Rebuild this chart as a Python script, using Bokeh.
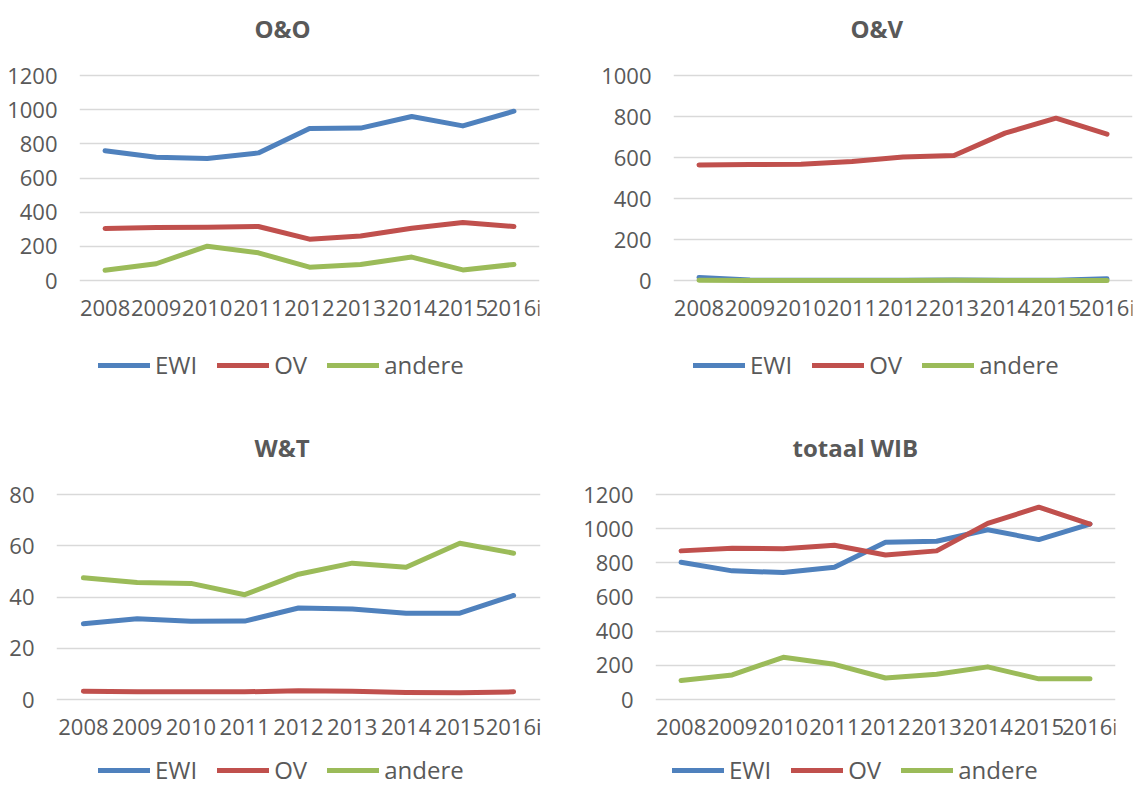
from bokeh.plotting import figure
from bokeh.models import Range1d, FactorRange, FixedTicker, Legend, LegendItem
from bokeh.layouts import column, row
from bokeh.embed import file_html
from bokeh.resources import INLINE

years = ["2008", "2009", "2010", "2011", "2012", "2013", "2014", "2015", "2016i"]
series_names = ["EWI", "OV", "andere"]

oo_ewi = [759, 722, 714, 747, 890, 892, 960, 905, 991]
oo_ov = [304, 310, 312, 316, 242, 261, 306, 340, 316]
oo_andere = [60, 98, 201, 162, 78, 94, 137, 62, 94]

ov_ewi = [15, 2, 1, 1, 1, 2, 1, 1, 8]
ov_ov = [564, 566, 567, 580, 602, 610, 719, 792, 714]
ov_andere = [1, 0, 0, 0, 0, 1, 0, 0, 0]

wt_ewi = [29.6, 31.5, 30.5, 30.6, 35.7, 35.3, 33.7, 33.7, 40.6]
wt_ov = [3.2, 3.0, 3.0, 3.0, 3.4, 3.2, 2.7, 2.6, 3.0]
wt_andere = [47.5, 45.7, 45.3, 40.9, 48.9, 53.2, 51.6, 61.0, 57.1]

tot_ewi = [803, 753, 743, 774, 920, 926, 994, 936, 1027]
tot_ov = [870, 885, 883, 903, 846, 870, 1031, 1126, 1027]
tot_andere = [111, 144, 247, 206, 126, 148, 191, 121, 121]

COLORS = ["#4F81BD", "#C0504D", "#9BBB59"]
TXT = "#595959"
FONT = "Open Sans"

PLOT_H = 205      # pixels between the 0 line and the top gridline
TOP_PAD = 25      # frame space above the top gridline
BT = 50           # border above the frame (title area)
BB = 5            # border below the frame


def make(title, data, ymax, step, fw, bl, br, below_px, title_off, leg_x, leg_y):
    k = PLOT_H / ymax
    fh = TOP_PAD + PLOT_H + below_px
    p = figure(x_range=FactorRange(factors=years),
               y_range=Range1d(-below_px / k, ymax + TOP_PAD / k),
               frame_width=fw, frame_height=fh,
               min_border_left=bl, min_border_right=br,
               min_border_top=BT, min_border_bottom=BB,
               output_backend="svg", toolbar_location=None,
               outline_line_color=None)
    p.title.text = title
    p.title.text_font = FONT
    p.title.text_font_size = "24px"
    p.title.text_font_style = "bold"
    p.title.text_color = TXT
    p.title.align = "left"
    p.title.offset = title_off
    p.title.standoff = 12

    for ax in (p.xaxis, p.yaxis):
        ax.axis_line_color = None
        ax.major_tick_line_color = None
        ax.minor_tick_line_color = None
        ax.major_label_text_font = FONT
        ax.major_label_text_font_size = "22px"
        ax.major_label_text_color = TXT
    p.xaxis.fixed_location = 0
    p.yaxis.major_label_standoff = 16
    p.yaxis.ticker = FixedTicker(ticks=list(range(0, ymax + 1, step)))
    p.xgrid.grid_line_color = None
    p.ygrid.grid_line_color = "#D9D9D9"
    p.ygrid.grid_line_width = 1.5

    items = []
    for name, vals, col in zip(series_names, data, COLORS):
        r = p.line(years, vals, line_color=col, line_width=5,
                   line_cap="round", line_join="round")
        items.append(LegendItem(label=name, renderers=[r]))

    leg = Legend(items=items, orientation="horizontal",
                 location=(leg_x, leg_y), margin=0, padding=0,
                 spacing=20, glyph_width=52, glyph_height=20,
                 label_standoff=5, label_text_font=FONT,
                 label_text_font_size="24px", label_text_color=TXT,
                 border_line_color=None, background_fill_alpha=0)
    p.add_layout(leg)
    return p


# row 1: 419 px tall, row 2: 375 px tall
p1 = make("O&O", [oo_ewi, oo_ov, oo_andere], 1200, 200,
          460, 79, 28, 134, 175, 19, 33)
p2 = make("O&V", [ov_ewi, ov_ov, ov_andere], 1000, 200,
          459, 106, 3, 134, 177, 20, 33)
p3 = make("W&T", [wt_ewi, wt_ov, wt_andere], 80, 20,
          484, 56, 27, 90, 198, 42, 3)
p4 = make("totaal WIB", [tot_ewi, tot_ov, tot_andere], 1200, 200,
          460, 88, 20, 90, 137, 17, 3)

layout = column(row(p1, p2), row(p3, p4))
open("out.html", "w").write(file_html(layout, INLINE))
